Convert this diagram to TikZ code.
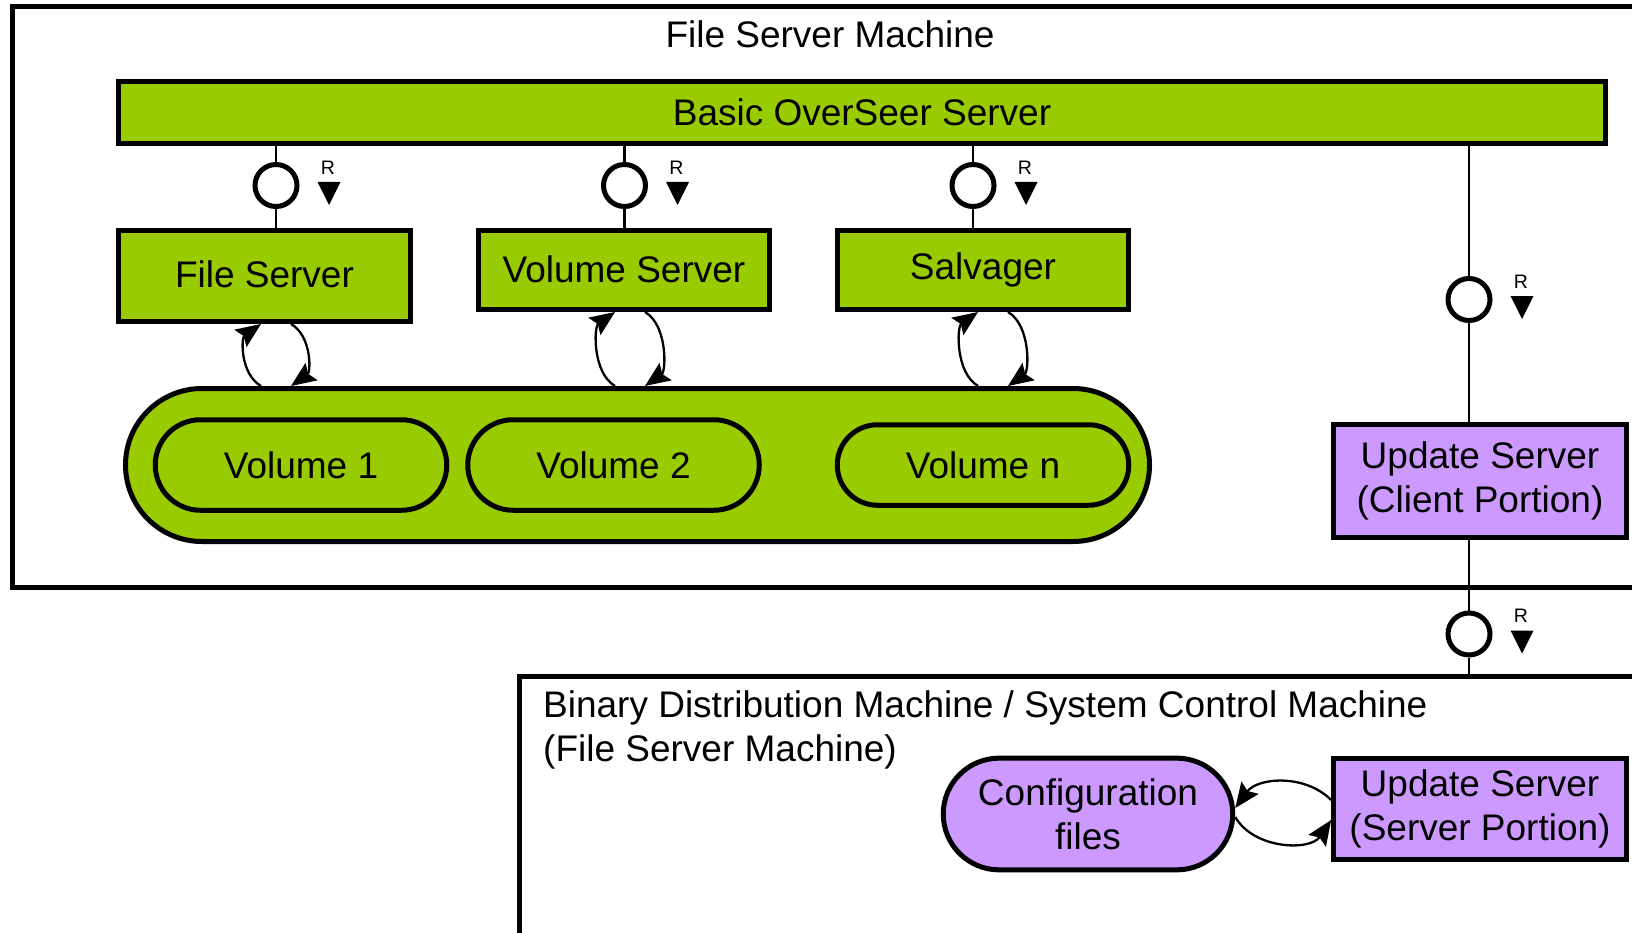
\documentclass[tikz,border=0pt]{standalone}
\usepackage{fontspec}
\setmainfont{Liberation Sans}
\usetikzlibrary{shapes.misc,arrows.meta,calc}
\definecolor{osgreen}{HTML}{99CC00}
\definecolor{upurple}{HTML}{CC99FF}

% "R" label with a downward triangle beside an interface circle
\newcommand\ifacemark[1]{%
  \node[rlab] at ($(#1)+(52,18)$) {R};
  \fill ($(#1)+(41.5,3.5)$) -- ($(#1)+(64.5,3.5)$) -- ($(#1)+(53,-19.5)$) -- cycle;
}

\begin{document}
\begin{tikzpicture}[x=1pt,y=1pt,
  txt/.style={font=\fontsize{37}{44}\selectfont, align=center, inner sep=0pt},
  frame/.style={draw, line width=5pt, inner sep=0pt, rectangle},
  gbox/.style={draw, line width=5pt, fill=osgreen, txt, rectangle},
  gpill/.style={draw, line width=5pt, fill=osgreen, txt, rounded rectangle},
  pbox/.style={draw, line width=5pt, fill=upurple, txt, rectangle},
  ppill/.style={draw, line width=5pt, fill=upurple, txt, rounded rectangle},
  iface/.style={draw, circle, line width=5pt, fill=white, minimum size=42pt, inner sep=0pt},
  conn/.style={line width=2.6pt},
  flow/.style={line width=2.3pt, looseness=0.9, -{Stealth[length=25pt,width=21pt,inset=4pt]}},
  rlab/.style={font=\fontsize{19.5}{20}\selectfont, inner sep=0pt}
]
\useasboundingbox (0,0) rectangle (1632,-933);
\clip (0,0) rectangle (1632,-933);

% machine frames
\node[frame, minimum width=1647.5pt, minimum height=580.5pt] (fsm) at (836.25,-297.25) {};
\node[txt] (fsmtitle) at (830,-34) {File Server Machine};
\node[frame, minimum width=1141pt, minimum height=283.5pt] (bdm) at (1089.5,-818.25) {};
\node[txt, align=left, anchor=base west] (bdmtitle) at (543,-761)
  {Binary Distribution Machine / System Control Machine\\(File Server Machine)};

% BOS and its processes
\node[gbox, minimum width=1487pt, minimum height=62pt] (bos) at (862,-112.5) {Basic OverSeer Server};
\node[gbox, minimum width=292pt, minimum height=91pt] (fs) at (264.5,-276) {\raisebox{3pt}{File Server}};
\node[gbox, minimum width=291pt, minimum height=79pt] (vs) at (624,-270) {\raisebox{1.5pt}{Volume Server}};
\node[gbox, minimum width=291pt, minimum height=79pt] (salv) at (983,-270) {Salvager};

% volumes
\node[gpill, minimum width=1024pt, minimum height=153pt] (grp) at (637.5,-465) {};
\node[gpill, minimum width=291.5pt, minimum height=90.5pt] (v1) at (301,-465) {Volume 1};
\node[gpill, minimum width=291.5pt, minimum height=90.5pt] (v2) at (613.5,-465) {Volume 2};
\node[gpill, minimum width=291.5pt, minimum height=80.5pt] (vn) at (983,-465) {Volume n};

% update server
\node[pbox, minimum width=292.7pt, minimum height=113.7pt] (ucl) at (1480,-481) {Update Server\\(Client Portion)};
\node[pbox, minimum width=292.7pt, minimum height=101.3pt] (usp) at (1480,-808.7) {Update Server\\(Server Portion)};
\node[ppill, minimum width=289.5pt, minimum height=111.7pt] (cfg) at (1088,-814) {Configuration\\files};

% interfaces
\node[iface] (i1) at (276,-185.5) {};
\node[iface] (i2) at (624.5,-185.5) {};
\node[iface] (i3) at (973,-185.5) {};
\node[iface] (i4) at (1469,-299.5) {};
\node[iface] (i5) at (1469,-634) {};

\draw[conn] (i1 |- bos.south) -- (i1);
\draw[conn] (i1) -- (i1 |- fs.north);
\draw[conn] (i2 |- bos.south) -- (i2);
\draw[conn] (i2) -- (i2 |- vs.north);
\draw[conn] (i3 |- bos.south) -- (i3);
\draw[conn] (i3) -- (i3 |- salv.north);
\draw[conn] (i4 |- bos.south) -- (i4);
\draw[conn] (i4) -- (i4 |- ucl.north);
\draw[conn] (i5 |- ucl.south) -- (i5);
\draw[conn] (i5) -- (i5 |- bdm.north);

\ifacemark{i1}
\ifacemark{i2}
\ifacemark{i3}
\ifacemark{i4}
\ifacemark{i5}

% process <-> volume access
\draw[flow, looseness=1] (grp.north -| 261,0) to[out=150, in=215] (fs.south -| 261,0);
\draw[flow, looseness=1] (fs.south -| 291,0) to[out=-30, in=35] (grp.north -| 291,0);
\draw[flow] (grp.north -| 615,0) to[out=150, in=215] (vs.south -| 615,0);
\draw[flow] (vs.south -| 645,0) to[out=-30, in=35] (grp.north -| 645,0);
\draw[flow] (grp.north -| 978,0) to[out=150, in=215] (salv.south -| 978,0);
\draw[flow] (salv.south -| 1008,0) to[out=-30, in=35] (grp.north -| 1008,0);

% configuration exchange
\draw[flow, looseness=1] (usp.west |- 0,-800) to[out=135, in=54] (cfg.east |- 0,-808);
\draw[flow, looseness=1] (cfg.east |- 0,-817) to[out=-60, in=236] (usp.west |- 0,-820);
\end{tikzpicture}
\end{document}
